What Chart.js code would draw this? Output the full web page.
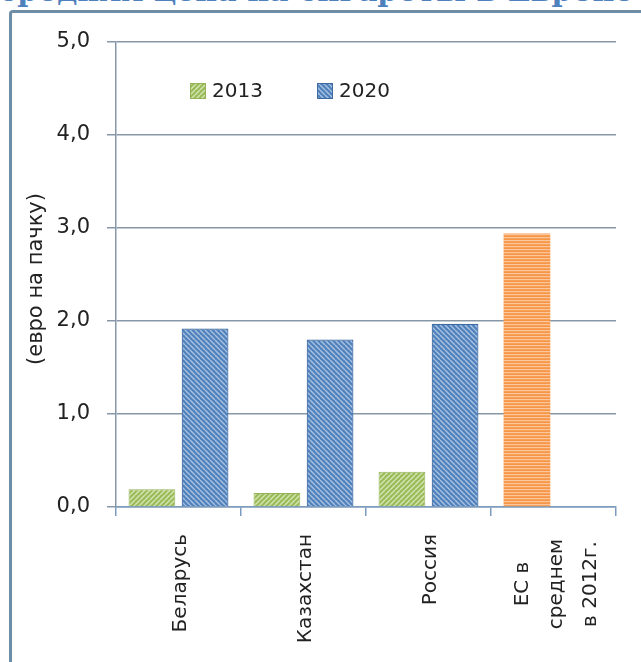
<!DOCTYPE html>
<html>
<head>
<meta charset="utf-8">
<title>Цены на сигареты</title>
<script src="https://cdn.jsdelivr.net/npm/chart.js@4"></script>
<style>
  html, body { margin: 0; padding: 0; background: #fff; overflow: hidden; }
  #page { position: relative; width: 641px; height: 662px; overflow: hidden; }
  #heading {
    position: absolute; left: -1px; top: -27px;
    font: bold 30px "DejaVu Serif", "Liberation Serif", serif;
    color: #4f81bd; white-space: nowrap;
  }
  #frame {
    position: absolute; left: 9px; top: 10px; width: 700px; height: 700px;
    border-left: 3px solid #6d8ca6; border-top: 3px solid #6d8ca6;
    border-top-left-radius: 4px;
  }
  #chart { position: absolute; left: 0; top: 0; }
</style>
</head>
<body>
<div id="page">
  <div id="heading">средняя цена на сигареты в Европе</div>
  <div id="frame"></div>
  <canvas id="chart" width="641" height="662"></canvas>
</div>
<script>
// Categories and values (euro per pack)
const categories = ['Беларусь', 'Казахстан', 'Россия', ['ЕС в', 'среднем', 'в 2012г.']];
const prices2013 = [0.19, 0.15, 0.38, null];
const prices2020 = [1.92, 1.80, 1.97, null];
const euAverage2012 = [null, null, null, 2.94];
const yTicks = [0, 1, 2, 3, 4, 5];
const yTitle = '(евро на пачку)';

const textColor = '#222';
const gridColor = '#8797a8';
const axisColor = '#7b9cbf';
const fontFamily = '"DejaVu Sans", "Liberation Sans", sans-serif';

const canvas = document.getElementById('chart');
const ctx = canvas.getContext('2d');

// Striped fills like the old office chart styles
function stripePattern(base, stripe, dir, size) {
  const c = document.createElement('canvas');
  c.width = size; c.height = size;
  const g = c.getContext('2d');
  g.fillStyle = base;
  g.fillRect(0, 0, size, size);
  if (dir === 'h') {
    g.fillStyle = stripe;
    g.fillRect(0, 0, size, 1.2);
  } else {
    g.strokeStyle = stripe;
    g.lineWidth = 1.4;
    for (const k of [-size, 0, size]) {
      g.beginPath();
      if (dir === 'up') { g.moveTo(k, size); g.lineTo(k + size, 0); }
      else { g.moveTo(k, 0); g.lineTo(k + size, size); }
      g.stroke();
    }
  }
  return ctx.createPattern(c, 'repeat');
}

const greenFill = stripePattern('#9bbb59', '#d5e4b4', 'up', 5);
const blueFill = stripePattern('#4f81bd', '#a9c2e0', 'down', 5);
const orangeFill = stripePattern('#f79646', '#fbc69b', 'h', 3);

// Legend, axis title and rotated category names
const chartText = {
  id: 'chartText',
  afterDraw(chart) {
    const c = chart.ctx;
    const xs = chart.scales.x;
    const area = chart.chartArea;
    c.save();
    c.fillStyle = textColor;

    // category names, read bottom to top
    c.font = '20px ' + fontFamily;
    categories.forEach((name, i) => {
      const cx = xs.getPixelForValue(i);
      c.save();
      if (Array.isArray(name)) {
        c.translate(cx + 3.5, 584);
        c.rotate(-Math.PI / 2);
        c.textAlign = 'center';
        c.textBaseline = 'middle';
        name.forEach((line, j) => {
          c.fillText(line, 0, (j - (name.length - 1) / 2) * 34);
        });
      } else {
        c.translate(cx + 2, 534);
        c.rotate(-Math.PI / 2);
        c.textAlign = 'right';
        c.textBaseline = 'middle';
        c.fillText(name, 0, 0);
      }
      c.restore();
    });

    // y axis title
    c.save();
    c.translate(37, 279);
    c.rotate(-Math.PI / 2);
    c.textAlign = 'center';
    c.textBaseline = 'middle';
    c.font = '21px ' + fontFamily;
    c.fillText(yTitle, 0, 0);
    c.restore();

    // legend inside the plot
    const items = [
      { ds: chart.data.datasets[0], x: area.left + 74 },
      { ds: chart.data.datasets[1], x: area.left + 201 }
    ];
    c.font = '20px ' + fontFamily;
    c.textAlign = 'left';
    c.textBaseline = 'middle';
    items.forEach(it => {
      c.fillStyle = it.ds.backgroundColor;
      c.fillRect(it.x, 83, 16, 16);
      c.strokeStyle = it.ds.borderColor;
      c.lineWidth = 1;
      c.strokeRect(it.x + 0.5, 83.5, 15, 15);
      c.fillStyle = textColor;
      c.fillText(it.ds.label, it.x + 22, 92);
    });
    c.restore();
  }
};

new Chart(ctx, {
  type: 'bar',
  data: {
    labels: categories,
    datasets: [
      {
        label: '2013',
        data: prices2013,
        stack: 'a',
        backgroundColor: greenFill,
        borderColor: '#93b356',
        borderWidth: 1
      },
      {
        label: '2020',
        data: prices2020,
        stack: 'b',
        backgroundColor: blueFill,
        borderColor: '#3d6aa3',
        borderWidth: 1.2
      },
      {
        label: 'ЕС',
        data: euAverage2012,
        stack: 'a',
        backgroundColor: orangeFill,
        borderColor: '#f0a060',
        borderWidth: 0
      }
    ]
  },
  options: {
    responsive: false,
    animation: false,
    categoryPercentage: 0.85,
    barPercentage: 0.88,
    layout: {
      autoPadding: false,
      padding: { top: 42, right: 25, bottom: 0, left: 0 }
    },
    plugins: {
      legend: { display: false },
      tooltip: { enabled: false }
    },
    scales: {
      x: {
        afterFit(s) { s.height = 155; },
        grid: {
          offset: true,
          drawOnChartArea: false,
          drawTicks: true,
          tickLength: 9,
          color: axisColor,
          lineWidth: 1.5
        },
        border: { color: axisColor, width: 1.5 },
        ticks: { display: false }
      },
      y: {
        min: 0,
        max: 5,
        afterFit(s) { s.width = 116; },
        afterBuildTicks(s) { s.ticks = yTicks.map(v => ({ value: v })); },
        grid: {
          color: gridColor,
          lineWidth: 1.5,
          drawTicks: true,
          tickLength: 9
        },
        border: { color: gridColor, width: 1.5 },
        ticks: {
          padding: 17,
          color: textColor,
          font: { family: fontFamily, size: 21 },
          callback: v => v.toFixed(1).replace('.', ',')
        }
      }
    }
  },
  plugins: [chartText]
});
</script>
</body>
</html>
